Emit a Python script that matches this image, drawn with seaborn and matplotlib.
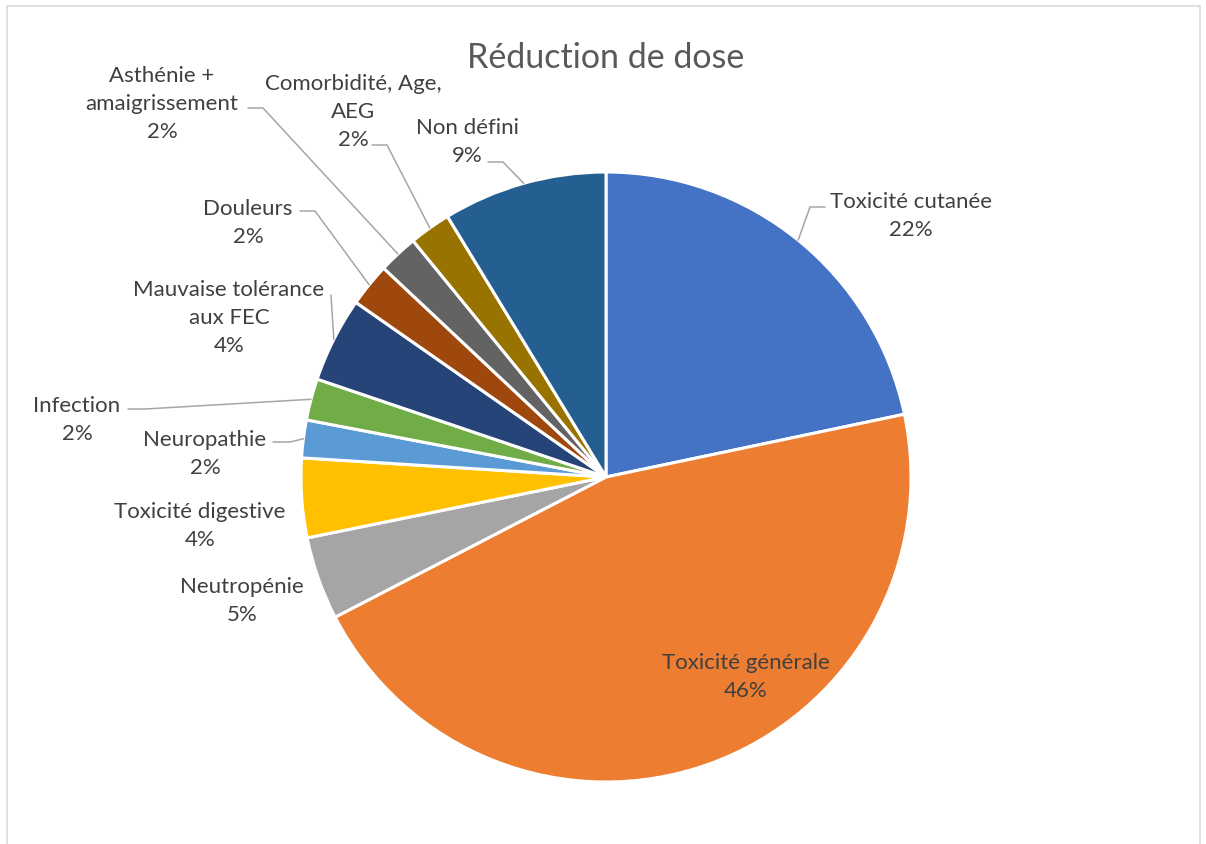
import numpy as np
import matplotlib
matplotlib.use("Agg")
import matplotlib.pyplot as plt
from matplotlib.patches import Rectangle
import seaborn as sns

# ---- data ----
categories = ["Toxicité cutanée", "Toxicité générale", "Neutropénie",
              "Toxicité digestive", "Neuropathie", "Infection",
              "Mauvaise tolérance\naux FEC", "Douleurs",
              "Asthénie +\namaigrissement", "Comorbidité, Age,\nAEG", "Non défini"]
values = [21.7, 45.7, 4.4, 4.2, 2.0, 2.2, 4.5, 2.3, 2.1, 2.2, 8.7]
percent_labels = ["22%", "46%", "5%", "4%", "2%", "2%", "4%", "2%", "2%", "2%", "9%"]
colors = ["#4472C4", "#ED7D31", "#A5A5A5", "#FFC000", "#5B9BD5", "#70AD47",
          "#264478", "#9E480E", "#636363", "#997300", "#255E91"]
title = "Réduction de dose"

# ---- layout (pixel space, y measured from top) ----
W, H = 1206, 845
CX, CY, R = 606, 478, 305
LINE_H = 28.5
label_pos = [(911, 214), (746, 675), (242, 599), (200, 524), (205, 452),
             (77, 418), (229, 316), (248, 221), (162, 102), (353, 110), (467, 140)]
# leader lines: label-side start, elbow (None = no leader)
leaders = [((825, 208), (810, 208)), None, None, None,
           ((273, 443), (290, 443)), ((128, 410), (145, 410)),
           ((331, 296), (331, 296)), ((300, 212), (315, 212)),
           ((248, 109), (263, 109)), ((372, 146), (387, 146)),
           ((488, 163), (503, 163))]

sns.set_theme(style="white")
plt.rcParams['font.family'] = ['Lato', 'DejaVu Sans']

fig = plt.figure(figsize=(W / 100, H / 100), dpi=100)
ax = fig.add_axes([0, 0, 1, 1])
Y = lambda y: H - y

wedges, _ = ax.pie(values, colors=colors, startangle=90, counterclock=False,
                   center=(CX, Y(CY)), radius=R,
                   wedgeprops=dict(edgecolor="white", linewidth=2.2))
ax.set_xlim(0, W)
ax.set_ylim(0, H)
ax.set_aspect('equal')
ax.axis('off')

label_color = "#404040"
for i, (w, cat, pct) in enumerate(zip(wedges, categories, percent_labels)):
    lx, ly = label_pos[i]
    lines = cat.split("\n") + [pct]
    n = len(lines)
    for k, line in enumerate(lines):
        yk = ly + (k - (n - 1) / 2) * LINE_H
        ax.text(lx, Y(yk), line, ha="center", va="center_baseline",
                fontsize=16, color=label_color)
    if leaders[i] is not None:
        mid = np.deg2rad((w.theta1 + w.theta2) / 2)
        ex = CX + R * np.cos(mid)
        ey = Y(CY) + R * np.sin(mid)
        (sx, sy), (bx, by) = leaders[i]
        ax.plot([sx, bx, ex], [Y(sy), Y(by), ey], color="#A6A6A6", lw=1.1,
                solid_joinstyle="miter")

ax.text(606, Y(58), title, ha="center", va="center", fontsize=24.5, color="#595959")

fig.patches.append(Rectangle((7 / W, -0.1), (1200 - 7) / W, (H - 7) / H + 0.1,
                             transform=fig.transFigure, fill=False,
                             edgecolor="#D9D9D9", lw=1.2))

fig.savefig("out.png", dpi=100)
